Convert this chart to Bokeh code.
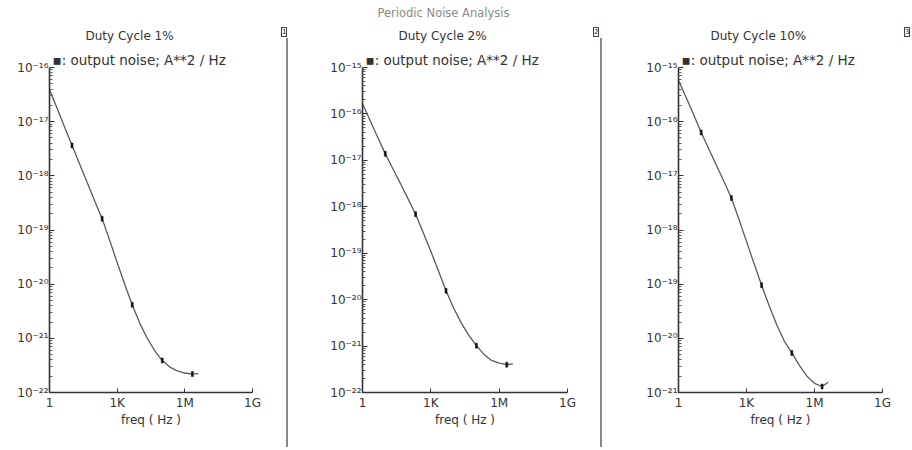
from bokeh.plotting import figure
from bokeh.layouts import row
from bokeh.models import (ColumnDataSource, FixedTicker, CustomJSTickFormatter,
                          Range1d, Title, Div)
from bokeh.embed import file_html
from bokeh.resources import INLINE

# ---------------- data ----------------
freq = [1, 2.154, 4.642, 10, 21.54, 46.42, 100, 215.4, 464.2, 1000,
        2154, 4642, 1e4, 2.154e4, 4.642e4, 1e5, 2.154e5, 4.642e5, 1e6,
        2.154e6, 4e6]

noise_1pct = [3.89e-17, 1.78e-17, 7.94e-18, 3.63e-18, 1.66e-18, 7.59e-19,
              3.47e-19, 1.62e-19, 6.46e-20, 2.51e-20, 1.0e-20, 4.17e-21,
              1.91e-21, 1.0e-21, 5.89e-22, 3.89e-22, 2.95e-22, 2.51e-22,
              2.29e-22, 2.19e-22, 2.24e-22]

noise_2pct = [1.66e-16, 7.24e-17, 3.16e-17, 1.38e-17, 6.61e-18, 3.16e-18,
              1.48e-18, 6.92e-19, 2.75e-19, 1.10e-19, 4.17e-20, 1.55e-20,
              6.61e-21, 3.16e-21, 1.70e-21, 1.02e-21, 6.61e-22, 4.90e-22,
              4.27e-22, 3.98e-22, 4.12e-22]

noise_10pct = [5.75e-16, 2.82e-16, 1.35e-16, 6.31e-17, 3.16e-17, 1.58e-17,
               7.94e-18, 3.89e-18, 1.58e-18, 6.17e-19, 2.40e-19, 9.55e-20,
               3.98e-20, 1.78e-20, 8.91e-21, 5.37e-21, 3.16e-21, 2.00e-21,
               1.48e-21, 1.29e-21, 1.55e-21]

marker_index = [3, 7, 11, 15, 19]

panel_titles = ["Duty Cycle 1%", "Duty Cycle 2%", "Duty Cycle 10%"]
panel_numbers = ["1", "2", "3"]
main_title = "Periodic Noise Analysis"
legend_text = "\u25aa: output noise; A**2 / Hz"
x_label = "freq ( Hz )"

x_tick_values = [1, 1e3, 1e6, 1e9]
x_tick_labels = ["1", "1K", "1M", "1G"]

y_exponents_1 = [-22, -21, -20, -19, -18, -17, -16]
y_exponents_2 = [-22, -21, -20, -19, -18, -17, -16, -15]
y_exponents_3 = [-21, -20, -19, -18, -17, -16, -15]

# ---------------- styling ----------------
FONT = "DejaVu Sans"
TXT = "#333333"
AXIS = "#333333"
CURVE = "#5a5a5a"
H = 450
TOP = 67
FH = 325

x_fmt = CustomJSTickFormatter(args=dict(vals=x_tick_values, labs=x_tick_labels), code="""
    let best = 0, bd = 1e9;
    for (let i = 0; i < vals.length; i++) {
        const d = Math.abs(Math.log10(vals[i]) - Math.log10(tick));
        if (d < bd) { bd = d; best = i; }
    }
    return labs[best];
""")

y_fmt_code = """
    const sup = {"0":"\u2070","1":"\u00b9","2":"\u00b2","3":"\u00b3","4":"\u2074",
                 "5":"\u2075","6":"\u2076","7":"\u2077","8":"\u2078","9":"\u2079","-":"\u207b"};
    const e = Math.round(Math.log10(tick));
    return "10" + String(e).split("").map(c => sup[c]).join("");
"""


def add_title(p, text, offset, size="12px", color=TXT, standoff=0):
    p.add_layout(Title(text=text, align="left", offset=offset,
                       text_font=FONT, text_font_size=size,
                       text_font_style="normal", text_color=color,
                       standoff=standoff), "above")


def make_panel(values, exps, title, left, fw, right, title_off, main_off=None):
    p = figure(x_axis_type="log", y_axis_type="log",
               frame_width=fw, frame_height=FH,
               min_border_left=left, min_border_right=right,
               min_border_top=TOP, min_border_bottom=H - TOP - FH,
               x_range=Range1d(1, 1e9),
               y_range=Range1d(10.0 ** exps[0], 10.0 ** exps[-1]),
               toolbar_location=None, output_backend="svg",
               background_fill_color="white", border_fill_color="white")
    p.outline_line_color = None
    p.grid.visible = False

    xa = p.xaxis[0]
    xa.ticker = FixedTicker(ticks=x_tick_values, minor_ticks=[])
    xa.formatter = x_fmt
    xa.axis_label = x_label
    xa.axis_label_text_font = FONT
    xa.axis_label_text_font_size = "12px"
    xa.axis_label_text_font_style = "normal"
    xa.axis_label_text_color = TXT
    xa.axis_label_standoff = 0
    xa.major_label_standoff = 3
    xa.major_label_text_font = FONT
    xa.major_label_text_font_size = "12px"
    xa.major_label_text_color = TXT
    xa.major_tick_in = 4
    xa.major_tick_out = 0
    xa.axis_line_color = AXIS
    xa.axis_line_width = 1.6
    xa.major_tick_line_color = AXIS

    ya = p.yaxis[0]
    majors = [10.0 ** e for e in exps]
    minors = [k * 10.0 ** e for e in exps[:-1] for k in range(2, 10)]
    ya.ticker = FixedTicker(ticks=majors, minor_ticks=minors)
    ya.formatter = CustomJSTickFormatter(code=y_fmt_code)
    ya.major_label_standoff = 1
    ya.major_label_text_font = FONT
    ya.major_label_text_font_size = "12px"
    ya.major_label_text_color = TXT
    ya.major_tick_in = 5
    ya.major_tick_out = 0
    ya.minor_tick_in = 3
    ya.minor_tick_out = 0
    ya.axis_line_color = AXIS
    ya.axis_line_width = 1.6
    ya.major_tick_line_color = AXIS
    ya.minor_tick_line_color = "#555555"

    src = ColumnDataSource(dict(x=freq, y=values))
    p.line("x", "y", source=src, line_color=CURVE, line_width=1.3)
    msrc = ColumnDataSource(dict(x=[freq[i] for i in marker_index],
                                 y=[values[i] for i in marker_index]))
    p.rect("x", "y", source=msrc, width=2, height=5,
           width_units="screen", height_units="screen",
           fill_color="#111111", line_color="#111111", line_width=0.5)

    # titles stacked above the frame (first = nearest the frame)
    add_title(p, legend_text, 3, size="13.5px", standoff=0)
    add_title(p, title, title_off, standoff=14)
    if main_off is not None:
        add_title(p, main_title, main_off, size="11.5px", color="#8a8a8a", standoff=0)
    return p


def make_sep(width, number, icon_left, sep_left=None):
    parts = ['<div style="position:relative;width:%dpx;height:%dpx;">' % (width, H)]
    if sep_left is not None:
        parts.append('<div style="position:absolute;left:%dpx;top:38px;width:2px;'
                     'height:409px;background:#888888;"></div>' % sep_left)
    parts.append('<div style="position:absolute;left:%dpx;top:27px;width:6px;height:10px;'
                 'box-sizing:border-box;border:1px solid #444444;'
                 'font-family:\'DejaVu Sans\';font-size:7px;line-height:8px;'
                 'text-align:center;color:#222222;padding:0;">%s</div>'
                 % (icon_left, number))
    parts.append('</div>')
    return Div(text="".join(parts), width=width, height=H, margin=0)


# global layout: p1 0-280 | s1 280-292 | p2 292-590 | s2 590-602 | p3 602-900 | s3 900-912
p1 = make_panel(noise_1pct, y_exponents_1, panel_titles[0],
                left=49, fw=203, right=28, title_off=36)
s1 = make_sep(12, panel_numbers[0], icon_left=1, sep_left=6)
p2 = make_panel(noise_2pct, y_exponents_2, panel_titles[1],
                left=70, fw=205, right=23, title_off=36, main_off=15)
s2 = make_sep(12, panel_numbers[1], icon_left=3, sep_left=10)
p3 = make_panel(noise_10pct, y_exponents_3, panel_titles[2],
                left=76, fw=204, right=18, title_off=32)
s3 = make_sep(12, panel_numbers[2], icon_left=4)

layout = row(p1, s1, p2, s2, p3, s3, spacing=0)

with open("out.html", "w") as f:
    f.write(file_html(layout, INLINE))
